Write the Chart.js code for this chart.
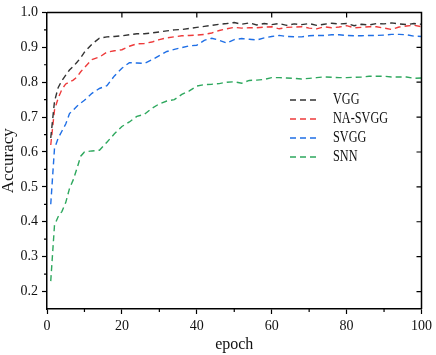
<!DOCTYPE html>
<html>
<head>
<meta charset="utf-8">
<script src="https://cdn.jsdelivr.net/npm/chart.js@4.4.1/dist/chart.umd.min.js"></script>
<style>
  body { margin: 0; background: #fff; }
  canvas { display: block; }
</style>
</head>
<body>
<canvas id="accChart" width="436" height="355"></canvas>
<script>
var epochs = [1,2,3,4,5,6,7,8,9,10,12,14,16,18,20,22,24,26,28,30,32,34,36,38,40,42,44,46,48,50,
              52,54,56,58,60,62,64,66,68,70,72,74,76,78,80,82,84,86,88,90,92,94,96,98,100];

var vgg = [0.64,0.745,0.785,0.805,0.82,0.835,0.845,0.857,0.87,0.886,0.909,0.926,0.93,0.931,0.933,
           0.936,0.939,0.939,0.941,0.944,0.947,0.95,0.951,0.954,0.957,0.96,0.963,0.966,0.968,0.971,
           0.966,0.97,0.964,0.968,0.965,0.968,0.963,0.967,0.965,0.968,0.963,0.966,0.969,0.967,0.968,
           0.962,0.966,0.964,0.968,0.967,0.97,0.967,0.965,0.968,0.966];

var naSvgg = [0.62,0.72,0.755,0.78,0.795,0.8,0.806,0.815,0.83,0.842,0.865,0.872,0.886,0.89,0.893,
              0.903,0.91,0.911,0.915,0.922,0.927,0.93,0.933,0.934,0.935,0.937,0.941,0.948,0.953,0.957,
              0.955,0.956,0.956,0.958,0.959,0.953,0.957,0.958,0.959,0.955,0.953,0.959,0.956,0.958,0.962,
              0.956,0.957,0.959,0.959,0.955,0.951,0.958,0.961,0.963,0.959];

var svgg = [0.45,0.61,0.64,0.66,0.68,0.71,0.72,0.731,0.74,0.748,0.768,0.782,0.79,0.818,0.84,
            0.856,0.855,0.854,0.864,0.876,0.888,0.894,0.899,0.904,0.906,0.92,0.926,0.92,0.912,0.922,
            0.925,0.923,0.921,0.927,0.931,0.934,0.931,0.93,0.93,0.933,0.934,0.934,0.936,0.936,0.934,
            0.933,0.933,0.934,0.934,0.935,0.937,0.937,0.936,0.932,0.931];

var snn = [0.23,0.39,0.415,0.43,0.455,0.495,0.52,0.553,0.588,0.6,0.603,0.605,0.628,0.652,0.673,
           0.686,0.702,0.708,0.725,0.738,0.746,0.75,0.765,0.775,0.789,0.793,0.794,0.796,0.8,0.801,
           0.797,0.805,0.806,0.808,0.813,0.813,0.812,0.811,0.809,0.811,0.813,0.815,0.814,0.813,0.813,
           0.814,0.815,0.817,0.817,0.817,0.815,0.815,0.815,0.811,0.812];

var xTicks = [0,20,40,60,80,100];
var yTicks = [0.2,0.3,0.4,0.5,0.6,0.7,0.8,0.9,1.0];

var seriesNames = ['VGG','NA-SVGG','SVGG','SNN'];
var seriesColors = ['#333333','#ee3b3b','#1f6fe6','#2ea85e'];
var seriesData = [vgg, naSvgg, svgg, snn];

var serif = "'Liberation Serif', 'DejaVu Serif', serif";

function toPoints(vals) {
	var pts = [];
	for (var i in vals) {
		pts.push({x: epochs[i], y: vals[i]});
	}
	return pts;
}

var datasets = [];
for (var i = 0; i < seriesNames.length; i++) {
	datasets.push({
		label: seriesNames[i],
		data: toPoints(seriesData[i]),
		borderColor: seriesColors[i],
		backgroundColor: seriesColors[i],
		borderWidth: 1.4,
		borderDash: [6, 4],
		pointRadius: 0,
		tension: 0,
		fill: false
	});
}

// frame, minor ticks, inward ticks on top/right, and the legend box
var framePlugin = {
	id: 'frame',
	afterDraw: function(chart) {
		var ctx = chart.ctx;
		var a = chart.chartArea;
		var xs = chart.scales.x, ys = chart.scales.y;
		ctx.save();
		ctx.strokeStyle = '#000';
		ctx.lineWidth = 1.5;
		ctx.beginPath();
		ctx.moveTo(a.left, a.top);
		ctx.lineTo(a.right, a.top);
		ctx.lineTo(a.right, a.bottom);
		ctx.stroke();

		ctx.lineWidth = 1.2;
		ctx.beginPath();
		// top inward ticks
		for (var i = 1; i < xTicks.length - 1; i++) {
			var px = xs.getPixelForValue(xTicks[i]);
			ctx.moveTo(px, a.top);
			ctx.lineTo(px, a.top + 5);
		}
		// bottom minor ticks
		for (var i = 0; i < xTicks.length - 1; i++) {
			var px = xs.getPixelForValue((xTicks[i] + xTicks[i + 1]) / 2);
			ctx.moveTo(px, a.bottom);
			ctx.lineTo(px, a.bottom + 3);
		}
		// right inward ticks
		for (var i = 0; i < yTicks.length - 1; i++) {
			var py = ys.getPixelForValue(yTicks[i]);
			ctx.moveTo(a.right, py);
			ctx.lineTo(a.right - 5, py);
		}
		// left minor ticks
		for (var i = 0; i < yTicks.length - 1; i++) {
			var py = ys.getPixelForValue((yTicks[i] + yTicks[i + 1]) / 2);
			ctx.moveTo(a.left, py);
			ctx.lineTo(a.left - 3, py);
		}
		ctx.stroke();

		// legend
		var lx = 290, ly = 100, rowH = 19;
		chart.data.datasets.forEach(function(ds, k) {
			var y = ly + k * rowH;
			ctx.strokeStyle = ds.borderColor;
			ctx.lineWidth = 1.4;
			ctx.setLineDash([6, 4]);
			ctx.beginPath();
			ctx.moveTo(lx, y);
			ctx.lineTo(lx + 30, y);
			ctx.stroke();
			ctx.setLineDash([]);
			ctx.save();
			ctx.translate(lx + 43, y);
			ctx.scale(0.72, 1);
			ctx.fillStyle = '#111';
			ctx.font = '17px ' + serif;
			ctx.textBaseline = 'middle';
			ctx.fillText(ds.label, 0, 0);
			ctx.restore();
		});
		ctx.restore();
	}
};

var ctx = document.getElementById('accChart');

var lineChart = new Chart(ctx, {
	type: 'line',
	data: { datasets: datasets },
	options: {
		responsive: false,
		animation: false,
		layout: { padding: { top: 6, right: 12, left: 0, bottom: 0 } },
		plugins: {
			legend: { display: false },
			tooltip: { enabled: false }
		},
		scales: {
			x: {
				type: 'linear',
				min: 0,
				max: 100,
				afterBuildTicks: function(scale) {
					scale.ticks = xTicks.map(function(v) { return {value: v}; });
				},
				afterFit: function(scale) { scale.height = 46; },
				grid: { display: true, drawOnChartArea: false, tickLength: 5, tickColor: '#000', tickWidth: 1.2 },
				border: { display: true, color: '#000', width: 1.5 },
				ticks: { color: '#111', padding: 4, maxRotation: 0, font: { family: serif, size: 14 } },
				title: { display: true, text: 'epoch', color: '#111', padding: { top: 0, bottom: 2 },
					font: { family: serif, size: 16, lineHeight: 1 } }
			},
			y: {
				min: 0.15,
				max: 1.0,
				afterBuildTicks: function(scale) {
					scale.ticks = yTicks.map(function(v) { return {value: v}; });
				},
				afterFit: function(scale) { scale.width = 47; },
				grid: { display: true, drawOnChartArea: false, tickLength: 5, tickColor: '#000', tickWidth: 1.2 },
				border: { display: true, color: '#000', width: 1.5 },
				ticks: {
					color: '#111', padding: 4, font: { family: serif, size: 14 },
					callback: function(v) { return v.toFixed(1); }
				},
				title: { display: true, text: 'Accuracy', color: '#111', padding: { top: 0, bottom: 0 },
					font: { family: serif, size: 17, lineHeight: 1 } }
			}
		}
	},
	plugins: [framePlugin]
});
</script>
</body>
</html>
